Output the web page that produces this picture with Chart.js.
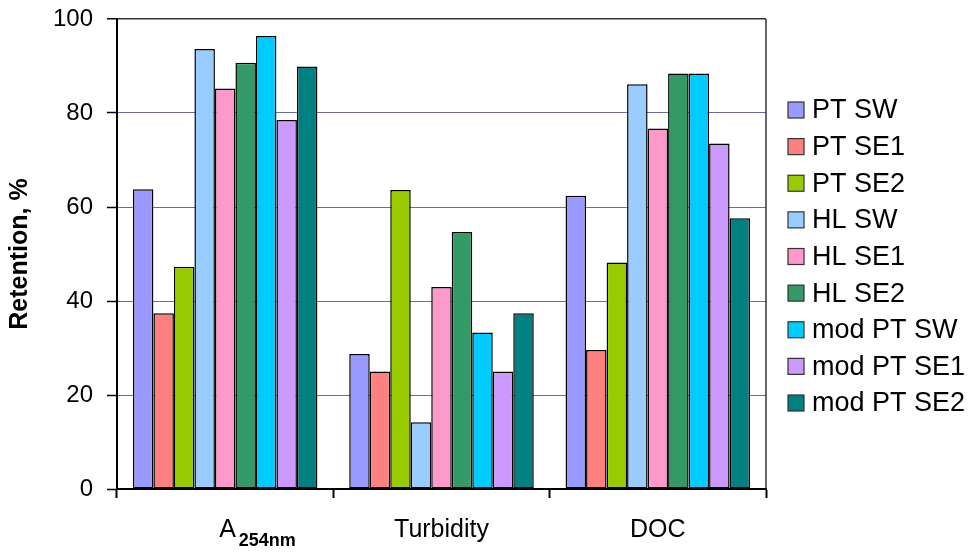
<!DOCTYPE html>
<html>
<head>
<meta charset="utf-8">
<script src="https://cdn.jsdelivr.net/npm/chart.js@4.4.0/dist/chart.umd.min.js"></script>
<style>
  html, body { margin: 0; padding: 0; background: #fff; }
  #wrap { width: 974px; height: 555px; }
</style>
</head>
<body>
<div id="wrap"><canvas id="retentionChart" width="974" height="555"></canvas></div>
<script>
// categories (main text + subscript part)
var categories = ["A", "Turbidity", "DOC"];
var categorySubs = ["254nm", "", ""];

var seriesNames = ["PT SW", "PT SE1", "PT SE2", "HL SW", "HL SE1", "HL SE2",
                   "mod PT SW", "mod PT SE1", "mod PT SE2"];
var seriesColors = ["#9999FF", "#FF8080", "#99CC00", "#99CCFF", "#FF99CC",
                    "#339966", "#00CCFF", "#CC99FF", "#008080"];

var ptSW    = [63.8, 28.7, 62.4];
var ptSE1   = [37.4, 25.0, 29.6];
var ptSE2   = [47.3, 63.6, 48.2];
var hlSW    = [93.6, 14.2, 86.1];
var hlSE1   = [85.2, 43.0, 76.7];
var hlSE2   = [90.7, 54.7, 88.4];
var modSW   = [96.4, 33.3, 88.4];
var modSE1  = [78.5, 25.0, 73.5];
var modSE2  = [89.9, 37.4, 57.6];

var yTicks = [0, 20, 40, 60, 80, 100];

var seriesValues = [ptSW, ptSE1, ptSE2, hlSW, hlSE1, hlSE2, modSW, modSE1, modSE2];

var FONT = "'Liberation Sans', Arial, sans-serif";

// legend, category labels and right border of the plot area
var extras = {
  id: "extras",
  afterDraw: function (chart) {
    var ctx = chart.ctx;
    var area = chart.chartArea;
    var x = chart.scales.x;

    ctx.save();
    ctx.strokeStyle = "#333";
    ctx.lineWidth = 1.5;
    ctx.beginPath();
    ctx.moveTo(area.right, area.top);
    ctx.lineTo(area.right, area.bottom);
    ctx.stroke();

    // category labels
    ctx.fillStyle = "#000";
    ctx.textBaseline = "alphabetic";
    for (var i = 0; i < categories.length; i++) {
      var cx = x.getPixelForValue(i);
      ctx.font = "25px " + FONT;
      if (categorySubs[i]) {
        var w = ctx.measureText(categories[i]).width;
        var left = cx - 6;
        ctx.textAlign = "left";
        ctx.fillText(categories[i], left, 537);
        ctx.font = "bold 18px " + FONT;
        ctx.fillText(categorySubs[i], left + w + 3, 546);
      } else {
        ctx.textAlign = "center";
        ctx.fillText(categories[i], cx, 537);
      }
    }

    // legend
    var top = 110, step = 36.625;
    ctx.font = "27px " + FONT;
    ctx.textAlign = "left";
    ctx.textBaseline = "middle";
    chart.data.datasets.forEach(function (ds, k) {
      var cy = top + k * step;
      ctx.fillStyle = ds.backgroundColor;
      ctx.fillRect(788, cy - 8, 16, 16);
      ctx.strokeStyle = "#333";
      ctx.lineWidth = 1.2;
      ctx.strokeRect(788, cy - 8, 16, 16);
      ctx.fillStyle = "#000";
      ctx.fillText(ds.label, 812, cy + 1);
    });
    ctx.restore();
  }
};

var ctx = document.getElementById("retentionChart").getContext("2d");
var myChart = new Chart(ctx, {
  type: "bar",
  data: {
    labels: categories.map(function (c, i) { return c + categorySubs[i]; }),
    datasets: seriesNames.map(function (name, k) {
      return {
        label: name,
        data: seriesValues[k],
        backgroundColor: seriesColors[k],
        borderColor: "#000",
        borderWidth: 1.5,
        borderSkipped: false,
        categoryPercentage: 0.853,
        barPercentage: 1.0,
      };
    }),
  },
  options: {
    responsive: false,
    animation: false,
    layout: { padding: { top: 19, right: 208, bottom: 0, left: 0 } },
    plugins: {
      legend: { display: false },
      tooltip: { enabled: false },
    },
    scales: {
      x: {
        afterFit: function (scale) {
          scale.height = 66;
          scale.paddingLeft = 0;
          scale.paddingRight = 0;
        },
        ticks: { display: false },
        border: { display: true, color: "#000", width: 2 },
        grid: {
          offset: true,
          drawOnChartArea: false,
          drawTicks: true,
          tickLength: 9,
          tickColor: "#000",
          tickWidth: 2,
        },
      },
      y: {
        min: 0,
        max: 100,
        afterFit: function (scale) {
          scale.width = 117;
          scale.paddingTop = 0;
          scale.paddingBottom = 0;
        },
        afterBuildTicks: function (scale) {
          scale.ticks = yTicks.map(function (v) { return { value: v }; });
        },
        border: { display: true, color: "#000", width: 2 },
        grid: {
          color: function (c) {
            return c.tick && c.tick.value === 100 ? "#333" : "#6b6ba6";
          },
          lineWidth: function (c) {
            return c.tick && c.tick.value === 100 ? 1.5 : 1;
          },
          tickColor: "#000",
          tickLength: 10,
          tickWidth: 1.5,
        },
        ticks: {
          padding: 14,
          color: "#000",
          font: { family: FONT, size: 24 },
        },
        title: {
          display: true,
          text: "Retention, %",
          color: "#000",
          font: { family: FONT, size: 25, weight: "bold" },
          padding: { top: 5, bottom: 0 },
        },
      },
    },
  },
  plugins: [extras],
});
</script>
</body>
</html>
